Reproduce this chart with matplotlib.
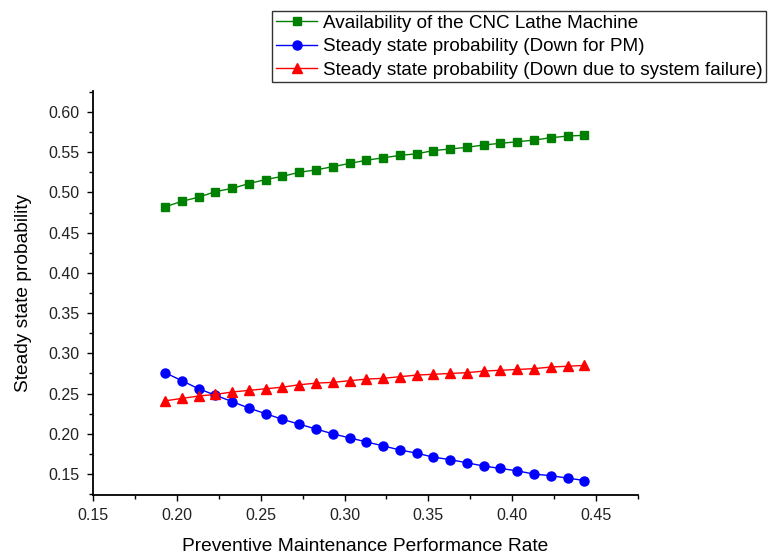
import matplotlib
matplotlib.use("Agg")
import matplotlib.pyplot as plt
from matplotlib.ticker import MultipleLocator, FormatStrFormatter

plt.rcParams["font.family"] = ["Liberation Sans", "DejaVu Sans"]

# -----------------------------
# Data
# -----------------------------
pm_rate = [0.193, 0.203, 0.213, 0.223, 0.233, 0.243, 0.253, 0.263, 0.273,
           0.283, 0.293, 0.303, 0.313, 0.323, 0.333, 0.343, 0.353, 0.363,
           0.373, 0.383, 0.393, 0.403, 0.413, 0.423, 0.433, 0.443]

availability = [0.482, 0.489, 0.494, 0.501, 0.505, 0.511, 0.516, 0.520, 0.525,
                0.528, 0.532, 0.536, 0.540, 0.543, 0.546, 0.548, 0.552, 0.554,
                0.556, 0.559, 0.561, 0.563, 0.565, 0.568, 0.570, 0.571]

down_pm = [0.276, 0.266, 0.256, 0.248, 0.240, 0.232, 0.225, 0.218, 0.212,
           0.206, 0.200, 0.195, 0.190, 0.185, 0.180, 0.176, 0.171, 0.168,
           0.164, 0.160, 0.157, 0.154, 0.150, 0.148, 0.145, 0.142]

down_failure = [0.241, 0.244, 0.247, 0.249, 0.252, 0.254, 0.256, 0.258, 0.261,
                0.263, 0.264, 0.266, 0.268, 0.269, 0.271, 0.273, 0.274, 0.275,
                0.276, 0.278, 0.279, 0.280, 0.281, 0.283, 0.284, 0.285]

labels = ["Availability of the CNC Lathe Machine",
          "Steady state probability (Down for PM)",
          "Steady state probability (Down due to system failure)"]

# -----------------------------
# Plot
# -----------------------------
fig = plt.figure(figsize=(7.71, 5.54), dpi=100)
ax = fig.add_axes([0.1206, 0.1065, 0.7069, 0.7292])

ax.plot(pm_rate, availability, color="#008000", lw=1, marker="s", ms=6.3, label=labels[0])
ax.plot(pm_rate, down_pm, color="#0000ff", lw=1, marker="o", ms=6.5, label=labels[1])
ax.plot(pm_rate, down_failure, color="#ff0000", lw=1, marker="^", ms=7.5, label=labels[2])

ax.set_xlim(0.15, 0.475)
ax.set_ylim(0.124, 0.626)
ax.xaxis.set_major_locator(MultipleLocator(0.05))
ax.xaxis.set_minor_locator(MultipleLocator(0.025))
ax.yaxis.set_major_locator(MultipleLocator(0.05))
ax.yaxis.set_minor_locator(MultipleLocator(0.025))
ax.xaxis.set_major_formatter(FormatStrFormatter("%.2f"))
ax.yaxis.set_major_formatter(FormatStrFormatter("%.2f"))

for side in ["top", "right"]:
    ax.spines[side].set_visible(False)
for side in ["left", "bottom"]:
    ax.spines[side].set_linewidth(1.3)

ax.tick_params(which="major", direction="out", length=4.5, width=1, labelsize=11.5,
               colors="black", pad=5)
ax.tick_params(which="minor", direction="out", length=3, width=1)
for lab in ax.get_xticklabels() + ax.get_yticklabels():
    lab.set_color("#222222")

ax.set_xlabel("Preventive Maintenance Performance Rate", fontsize=13.8, labelpad=11)
ax.set_ylabel("Steady state probability", fontsize=13.8, labelpad=12)

leg = fig.legend(loc="upper left", bbox_to_anchor=(272 / 771, 1 - 11 / 554),
                 fontsize=13.6, frameon=True, fancybox=False, borderpad=0.2,
                 handlelength=2.2, handletextpad=0.3, labelspacing=0.32,
                 borderaxespad=0)
leg.get_frame().set_edgecolor("black")
leg.get_frame().set_linewidth(1)

fig.savefig("out.png", dpi=100)
